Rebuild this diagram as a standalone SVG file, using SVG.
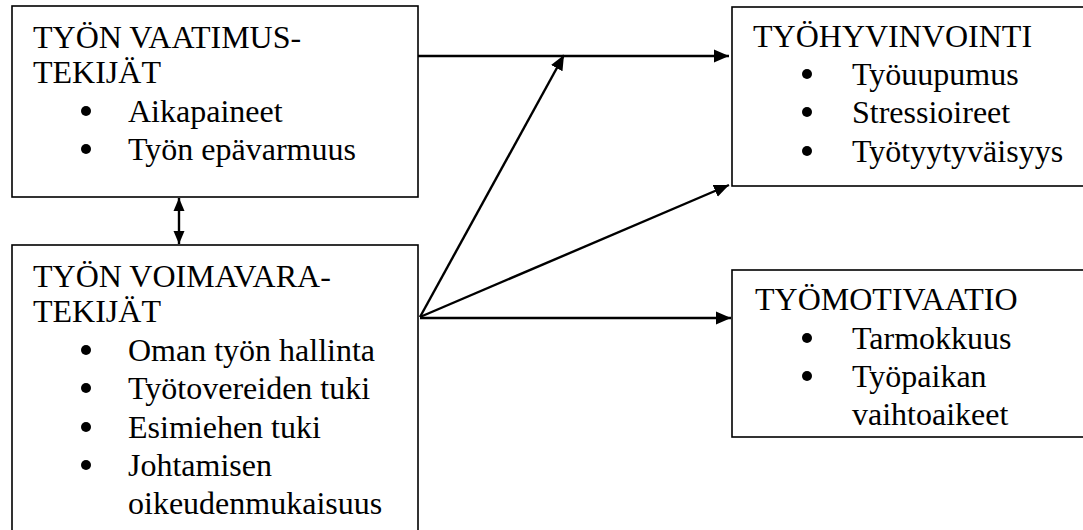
<svg xmlns="http://www.w3.org/2000/svg" width="1083" height="530" viewBox="0 0 1083 530">
  <style>
    .box { fill: #ffffff; stroke: #000000; stroke-width: 1.6; }
    .t { font-size: 32px; fill: #000000; }
    .dot { fill: #000000; }
    .conn { stroke: #000000; stroke-width: 2.4; fill: none; }
  </style>
  <defs>
    <marker id="ah" markerUnits="userSpaceOnUse" markerWidth="16" markerHeight="14" viewBox="0 0 16 14" refX="15" refY="7" orient="auto-start-reverse">
      <path d="M0,0.5 L15,7 L0,13.5 Z" fill="#000000"/>
    </marker>
    <marker id="ah2" markerUnits="userSpaceOnUse" markerWidth="14" markerHeight="12" viewBox="0 0 14 12" refX="13" refY="6" orient="auto-start-reverse">
      <path d="M0,0.5 L13,6 L0,11.5 Z" fill="#000000"/>
    </marker>
  </defs>

  <rect width="1083" height="530" fill="#ffffff"/>

  <g font-family="Liberation Serif, Times New Roman, Tinos, serif">
  <g id="node-vaatimus">
    <rect class="box" x="12" y="6" width="406" height="191"/>
    <text class="t" x="33" y="48">TYÖN VAATIMUS-</text>
    <text class="t" x="33" y="83">TEKIJÄT</text>
    <circle class="dot" cx="86" cy="111" r="5"/>
    <text class="t" x="128" y="122">Aikapaineet</text>
    <circle class="dot" cx="86" cy="149" r="5"/>
    <text class="t" x="128" y="160">Työn epävarmuus</text>
  </g>

  <g id="node-voimavara">
    <rect class="box" x="12" y="245" width="406" height="300"/>
    <text class="t" x="33" y="287">TYÖN VOIMAVARA-</text>
    <text class="t" x="33" y="322">TEKIJÄT</text>
    <circle class="dot" cx="86" cy="350" r="5"/>
    <text class="t" x="128" y="361">Oman työn hallinta</text>
    <circle class="dot" cx="86" cy="388" r="5"/>
    <text class="t" x="128" y="399">Työtovereiden tuki</text>
    <circle class="dot" cx="86" cy="427" r="5"/>
    <text class="t" x="128" y="438">Esimiehen tuki</text>
    <circle class="dot" cx="86" cy="465" r="5"/>
    <text class="t" x="128" y="476">Johtamisen</text>
    <text class="t" x="128" y="514">oikeudenmukaisuus</text>
  </g>

  <g id="node-tyohyvinvointi">
    <rect class="box" x="732" y="7" width="360" height="179"/>
    <text class="t" x="753" y="47">TYÖHYVINVOINTI</text>
    <circle class="dot" cx="807" cy="74" r="5"/>
    <text class="t" x="852" y="85">Työuupumus</text>
    <circle class="dot" cx="807" cy="112" r="5"/>
    <text class="t" x="852" y="123">Stressioireet</text>
    <circle class="dot" cx="807" cy="151" r="5"/>
    <text class="t" x="852" y="162">Työtyytyväisyys</text>
  </g>

  <g id="node-tyomotivaatio">
    <rect class="box" x="732" y="270" width="360" height="167"/>
    <text class="t" x="755" y="310">TYÖMOTIVAATIO</text>
    <circle class="dot" cx="807" cy="338" r="5"/>
    <text class="t" x="852" y="349">Tarmokkuus</text>
    <circle class="dot" cx="807" cy="376" r="5"/>
    <text class="t" x="852" y="387">Työpaikan</text>
    <text class="t" x="852" y="425">vaihtoaikeet</text>
  </g>
  </g>

  <g id="connectors">
    <line class="conn" x1="179" y1="198" x2="179" y2="244" marker-start="url(#ah2)" marker-end="url(#ah2)"/>
    <line class="conn" x1="418" y1="56" x2="729" y2="56" marker-end="url(#ah)"/>
    <line class="conn" x1="420" y1="317" x2="564" y2="55" marker-end="url(#ah)"/>
    <line class="conn" x1="420" y1="317" x2="729" y2="185" marker-end="url(#ah)"/>
    <line class="conn" x1="420" y1="318" x2="731" y2="318" marker-end="url(#ah)"/>
  </g>
</svg>
